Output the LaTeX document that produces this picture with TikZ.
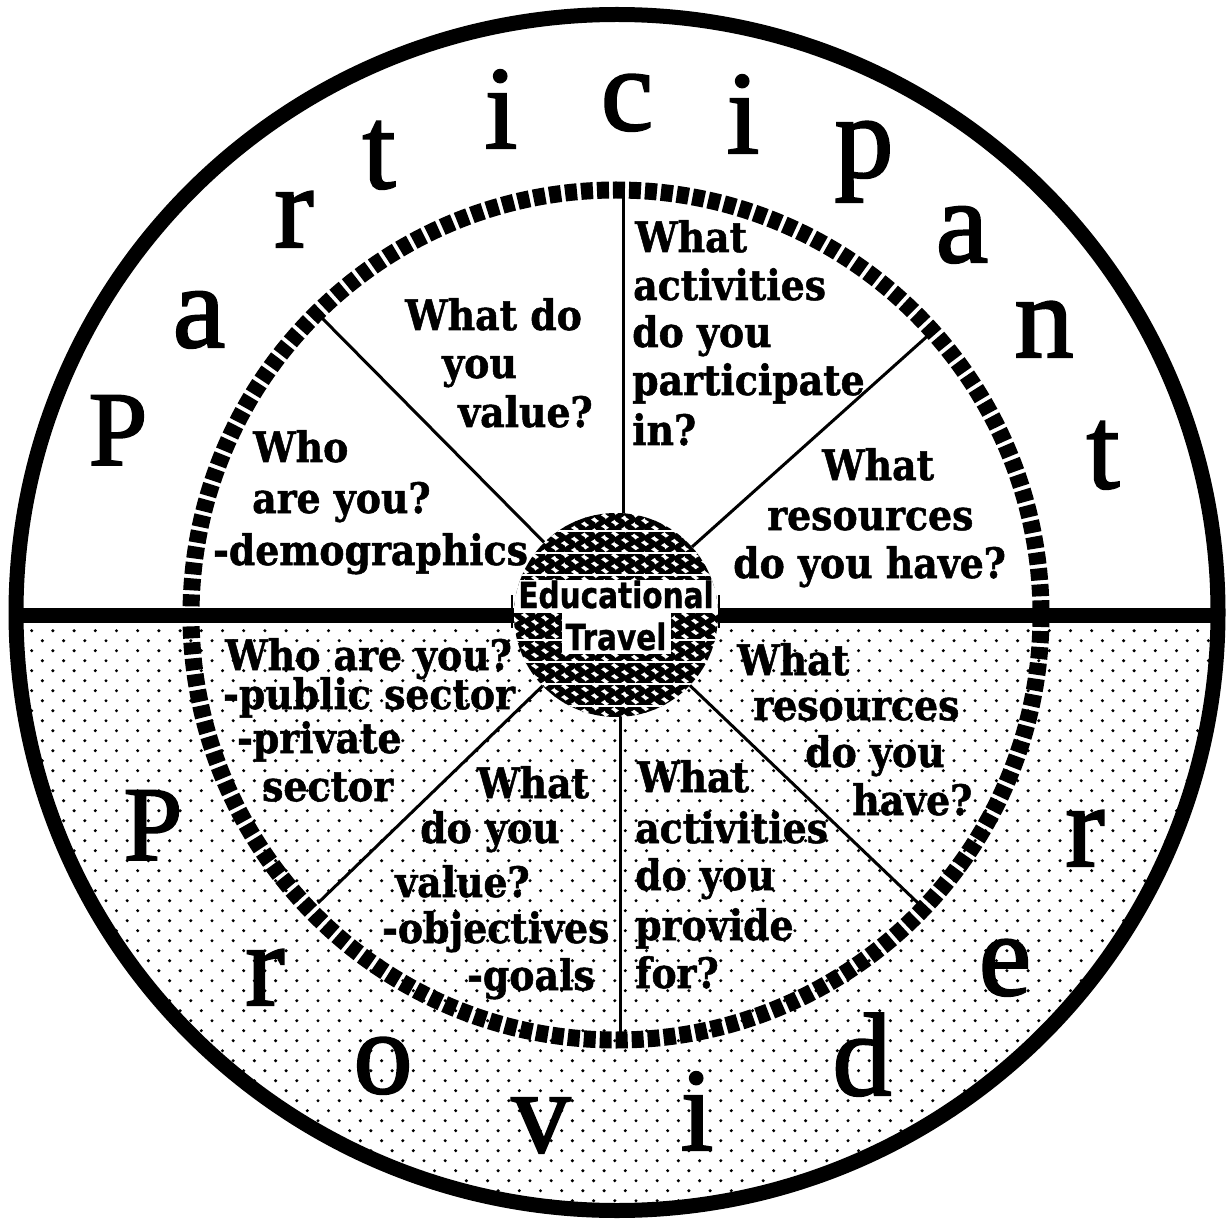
\documentclass[tikz,border=0pt]{standalone}
\usepackage{fontspec}
\setmainfont{Liberation Serif}
\newfontfamily\bigfam{Liberation Serif}[FakeBold=1.8]
\newfontfamily\qfam{DejaVu Serif}[FakeStretch=0.9, FakeBold=1.2]
\newfontfamily\hubfam{DejaVu Sans}[FakeStretch=0.82, FakeBold=1]
\newcommand\qfont{\qfam\bfseries\fontsize{42}{42}\selectfont}
\newcommand\hubfont{\hubfam\bfseries\fontsize{36}{36}\selectfont}
\begin{document}
\begin{tikzpicture}[x=1pt,y=-1pt,
  bigl/.style={font=\bigfam\fontsize{118}{118}\selectfont, anchor=base, inner sep=0pt},
  bigP/.style={font=\bigfam\fontsize{106}{106}\selectfont, anchor=base, inner sep=0pt},
  qline/.style={font=\qfont, anchor=base west, inner sep=0pt},
  hubtxt/.style={font=\hubfont, anchor=base, inner sep=0pt},
  radial/.style={line width=3pt},
  ringline/.style={line width=17pt, dash pattern=on 12pt off 4pt},
  outerline/.style={line width=15pt},
  barline/.style={line width=15pt},
]
\useasboundingbox (0,0) rectangle (1232,1222);
\fill[white] (0,0) rectangle (1232,1222);

% stipple of the lower half
\begin{scope}
\clip (617,612.5) ellipse [x radius=601, y radius=598];
\clip (0,615) rectangle (1232,1222);
\foreach \j in {0,...,60}{
  \pgfmathsetmacro{\off}{mod(\j,2)*10.5}
  \pgfmathsetmacro{\yy}{620.7+10*\j}
  \fill \foreach \i in {0,...,58}{ ({\i*21.2+\off},\yy) circle [radius=1.7] };
}
\end{scope}

% outer circle
\draw[outerline] (617,612.5) ellipse [x radius=601, y radius=598];

% hub
\node[circle, minimum size=204pt, inner sep=0pt] (hub) at (616,615) {};
\coordinate (barL) at (16,615);
\coordinate (barR) at (1218,615);
\draw[barline] (barL) -- (hub.west);
\draw[barline] (hub.east) -- (barR);

% inner ring
\draw[ringline] (616,615) circle [radius=425];

% radial lines
\coordinate (pul) at (320,316);
\coordinate (pur) at (932,332);
\coordinate (pll) at (318,903);
\coordinate (plr) at (918,903);
\coordinate (ptop) at (623,192);
\coordinate (pbot) at (620,1038);
\draw[radial] (hub) -- (pul);
\draw[radial] (hub) -- (pur);
\draw[radial] (hub) -- (pll);
\draw[radial] (hub) -- (plr);
\draw[radial] (ptop) -- (ptop |- hub.north);
\draw[radial] (pbot) -- (pbot |- hub.south);

% hub texture
\begin{scope}
\clip (616,615) circle [radius=102];
\fill[white] (616,615) circle [radius=102];
\foreach \c [count=\k] in {510,520,...,726} {
  \pgfmathsetmacro{\ph}{mod(\k*137,360)}
  \draw[line width=5.4pt] plot[variable=\t, domain=0:21, samples=110, smooth] ({\c+3.2*sin(360*\t+\ph)},{505+11*\t});
}
\foreach \h in {531,553,575,640,662,684,706} \draw[white, line width=2.4pt] (500,\h) -- (735,\h);
\fill[white] (500,580) rectangle (735,613);
\fill[white] (562,613) rectangle (671,654);
\end{scope}
\draw[line width=2.5pt] (512,595) -- (512,628);
\draw[line width=2.5pt] (719,595) -- (719,628);
\node[hubtxt] (edu) at (616,608) {Educational};
\node[hubtxt] (trav) at (616,650) {Travel};

% sector texts, upper half
\node[qline] (a1) at (405,330) {What do};
\node[qline] (a2) at (442,378) {you};
\node[qline] (a3) at (458,427) {value?};
\node[qline] (b1) at (253,462) {Who};
\node[qline] (b2) at (252,513) {are you?};
\node[qline] (b3) at (213,565) {-demographics};
\node[qline] (c1) at (635,252) {What};
\node[qline] (c2) at (633,300) {activities};
\node[qline] (c3) at (632,347) {do you};
\node[qline] (c4) at (632,395) {participate};
\node[qline] (c5) at (632,445) {in?};
\node[qline] (d1) at (822,480) {What};
\node[qline] (d2) at (767,530) {resources};
\node[qline] (d3) at (733,578) {do you have?};

% sector texts, lower half
\node[qline] (e1) at (225,670) {Who are you?};
\node[qline] (e2) at (223,709) {-public sector};
\node[qline] (e3) at (237,753) {-private};
\node[qline] (e4) at (262,801) {sector};
\node[qline] (f1) at (477,798) {What};
\node[qline] (f2) at (420,843) {do you};
\node[qline] (f3) at (395,897) {value?};
\node[qline] (f4) at (382,943) {-objectives};
\node[qline] (f5) at (467,990) {-goals};
\node[qline] (g1) at (637,792) {What};
\node[qline] (g2) at (635,843) {activities};
\node[qline] (g3) at (635,890) {do you};
\node[qline] (g4) at (635,940) {provide};
\node[qline] (g5) at (635,988) {for?};
\node[qline] (h1) at (737,675) {What};
\node[qline] (h2) at (753,720) {resources};
\node[qline] (h3) at (805,767) {do you};
\node[qline] (h4) at (852,815) {have?};

% Participant
\node[bigP] (P1) at (118,465) {P};
\node[bigl] (P2) at (199,347) {a};
\node[bigl] (P3) at (294,247) {r};
\node[bigl] (P4) at (379,188) {t};
\node[bigl] (P5) at (501,148) {i};
\node[bigl] (P6) at (627,130) {c};
\node[bigl] (P7) at (743,153) {i};
\node[bigl] (P8) at (864,177) {p};
\node[bigl] (P9) at (962,262) {a};
\node[bigl] (P10) at (1044,357) {n};
\node[bigl] (P11) at (1103,488) {t};

% Provider
\node[bigP] (R1) at (153,860) {P};
\node[bigl] (R2) at (265,1005) {r};
\node[bigl] (R3) at (383,1093) {o};
\node[bigl] (R4) at (541,1152) {v};
\node[bigl] (R5) at (697,1150) {i};
\node[bigl] (R6) at (862,1095) {d};
\node[bigl] (R7) at (1005,995) {e};
\node[bigl] (R8) at (1085,866) {r};
\end{tikzpicture}
\end{document}
